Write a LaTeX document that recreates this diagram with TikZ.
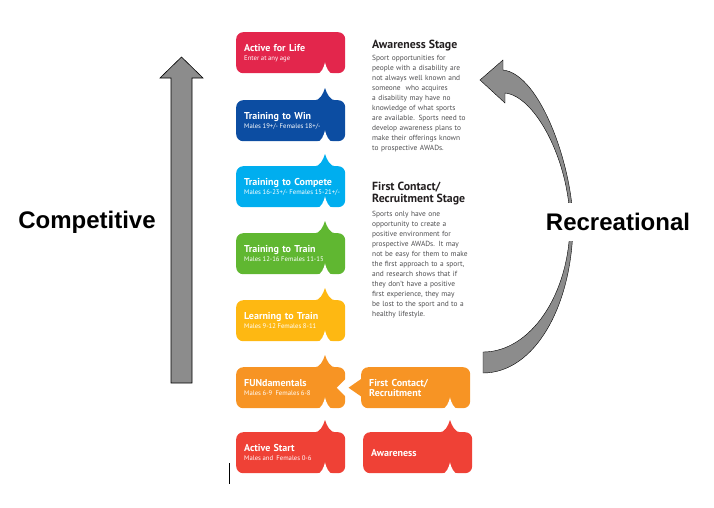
\documentclass[tikz,border=0pt]{standalone}
\usepackage{fontspec}
\setmainfont{PT Sans}
\newfontfamily\armfont{Liberation Sans}
\usetikzlibrary{positioning}

\definecolor{lifered}{RGB}{227,38,76}
\definecolor{winblue}{RGB}{12,77,162}
\definecolor{competecyan}{RGB}{0,174,239}
\definecolor{traingreen}{RGB}{96,183,49}
\definecolor{learnamber}{RGB}{254,184,18}
\definecolor{funorange}{RGB}{247,148,36}
\definecolor{startred}{RGB}{239,65,54}
\definecolor{arrowgray}{RGB}{140,140,140}
\definecolor{bodygray}{RGB}{77,77,79}
\definecolor{titleblack}{RGB}{35,31,32}

\newcommand\agefont{\fontsize{6.7}{7}\selectfont\mdseries\spaceskip=1.6pt\relax}

\begin{document}
\begin{tikzpicture}[x=1pt,y=-1pt,
    stagebox/.style={anchor=north west, rounded corners=7pt, minimum height=41pt,
        text width=93pt, inner xsep=8pt, inner ysep=0pt, align=left, text=white,
        font=\fontsize{10}{10}\selectfont\bfseries},
    stagetitle/.style={anchor=north west, inner sep=0pt, align=left, text=titleblack,
        font=\fontsize{11.8}{12}\selectfont\bfseries},
    stagetext/.style={anchor=north west, inner sep=0pt, text width=118pt, align=left,
        text=bodygray, font=\fontsize{7.4}{10}\selectfont},
    bigword/.style={font=\armfont\bfseries\fontsize{24}{28}\selectfont},
    pics/spike/.style={code={\fill[#1] (-11,0.5) .. controls (-5,0.5) and (-2,-6) .. (0,-12)
        .. controls (2,-6) and (5,0.5) .. (11,0.5) -- cycle;}},
    pics/notch/.style={code={\fill[white] (-8,0.5) .. controls (-4,0.5) and (-1,-6) .. (0,-11)
        .. controls (1,-6) and (4,0.5) .. (8,0.5) -- cycle;}},
]
    \useasboundingbox (0,0) rectangle (714,507);

    % competitive arrow
        \draw[fill=arrowgray, line width=0.6pt] (171,383) -- (171,78) -- (160,78) -- (181.5,57)
            -- (203,78) -- (192,78) -- (192,383) -- cycle;
        \node[bigword] (comp) at (87,222) {Competitive};

    % recreational arrow
        \draw[fill=arrowgray, line width=0.4pt] (483,373) .. controls (535,373) and (573,305) .. (573,222)
            .. controls (572,165) and (540,74) .. (503,70) -- (503,60) -- (480,80) -- (505,103) -- (505,93)
            .. controls (535,96) and (569,160) .. (570,222)
            .. controls (570,295) and (530,352) .. (483,352) -- cycle;
        \node[bigword, fill=white, inner xsep=1pt, inner ysep=10pt] (recr) at (618,222) {Recreational};

    % left column of stages
        \node[stagebox, fill=lifered] (life) at (236,32) {Active for Life\\[-1pt]\mbox{\agefont Enter at any age}};
        \node[stagebox, fill=winblue] (win) at (236,100) {Training to Win\\[-1pt]\mbox{\agefont Males 19+/- Females 18+/-}};
        \node[stagebox, fill=competecyan] (compete) at (236,166) {Training to Compete\\[-1pt]\mbox{\agefont Males 16-23+/- Females 15-21+/-}};
        \node[stagebox, fill=traingreen] (train) at (236,233) {Training to Train\\[-1pt]\mbox{\agefont Males 12-16 Females 11-15}};
        \node[stagebox, fill=learnamber] (learn) at (236,300) {Learning to Train\\[-1pt]\mbox{\agefont Males 9-12 Females 8-11}};
        \node[stagebox, fill=funorange] (fun) at (236,367) {FUNdamentals\\[-1pt]\mbox{\agefont Males 6-9\ \ Females 6-8}};
        \node[stagebox, fill=startred] (start) at (236,432) {Active Start\\[-1pt]\mbox{\agefont Males and\ \ Females 0-6}};

    % right column of stages
        \node[stagebox, fill=funorange] (contact) at (361,367) {First Contact/\\Recruitment};
        \node[stagebox, fill=startred] (aware) at (363,432) {Awareness};

    % spikes and notches
        \path (win.north west) ++(89,0) pic {spike=winblue};
        \path (compete.north west) ++(89,0) pic {spike=competecyan};
        \path (train.north west) ++(89,0) pic {spike=traingreen};
        \path (learn.north west) ++(89,0) pic {spike=learnamber};
        \path (fun.north west) ++(89,0) pic {spike=funorange};
        \path (start.north west) ++(89,0) pic {spike=startred};
        \path (aware.north west) ++(87,0) pic {spike=startred};
        \foreach \s in {life,win,compete,train,learn,fun,start,contact}
            \path (\s.south west) ++(89,0) pic {notch};
        \path (aware.south west) ++(87,0) pic {notch};

    % pointer from recruitment into fundamentals
        \fill[white] (fun.east) ++(0.5,-9) -- ++(-9,9) -- ++(9,9) -- cycle;
        \fill[funorange] (contact.west) ++(0.5,-9) -- ++(-13,9) -- ++(13,9) -- cycle;

    % stage descriptions
        \node[stagetitle] (awtitle) at (372,40) {Awareness Stage};
        \node[stagetext] (awtext) at (372,55) {Sport opportunities for\\
            people with a disability are\\ not always well known and\\ someone\ \ who acquires\\
            a disability may have no\\ knowledge of what sports\\ are available. Sports need to\\
            develop awareness plans to\\ make their offerings known\\ to prospective AWADs.};
        \node[stagetitle] (fctitle) at (372,182) {First Contact/\\Recruitment Stage};
        \node[stagetext] (fctext) at (372,211) {Sports only have one\\
            opportunity to create a\\ positive environment for\\ prospective AWADs. It may\\
            not be easy for them to make\\ the first approach to a sport,\\ and research shows that if\\
            they don't have a positive\\ first experience, they may\\ be lost to the sport and to a\\
            healthy lifestyle.};

    \draw[line width=0.8pt] (229,463) -- (229,484);
\end{tikzpicture}
\end{document}
